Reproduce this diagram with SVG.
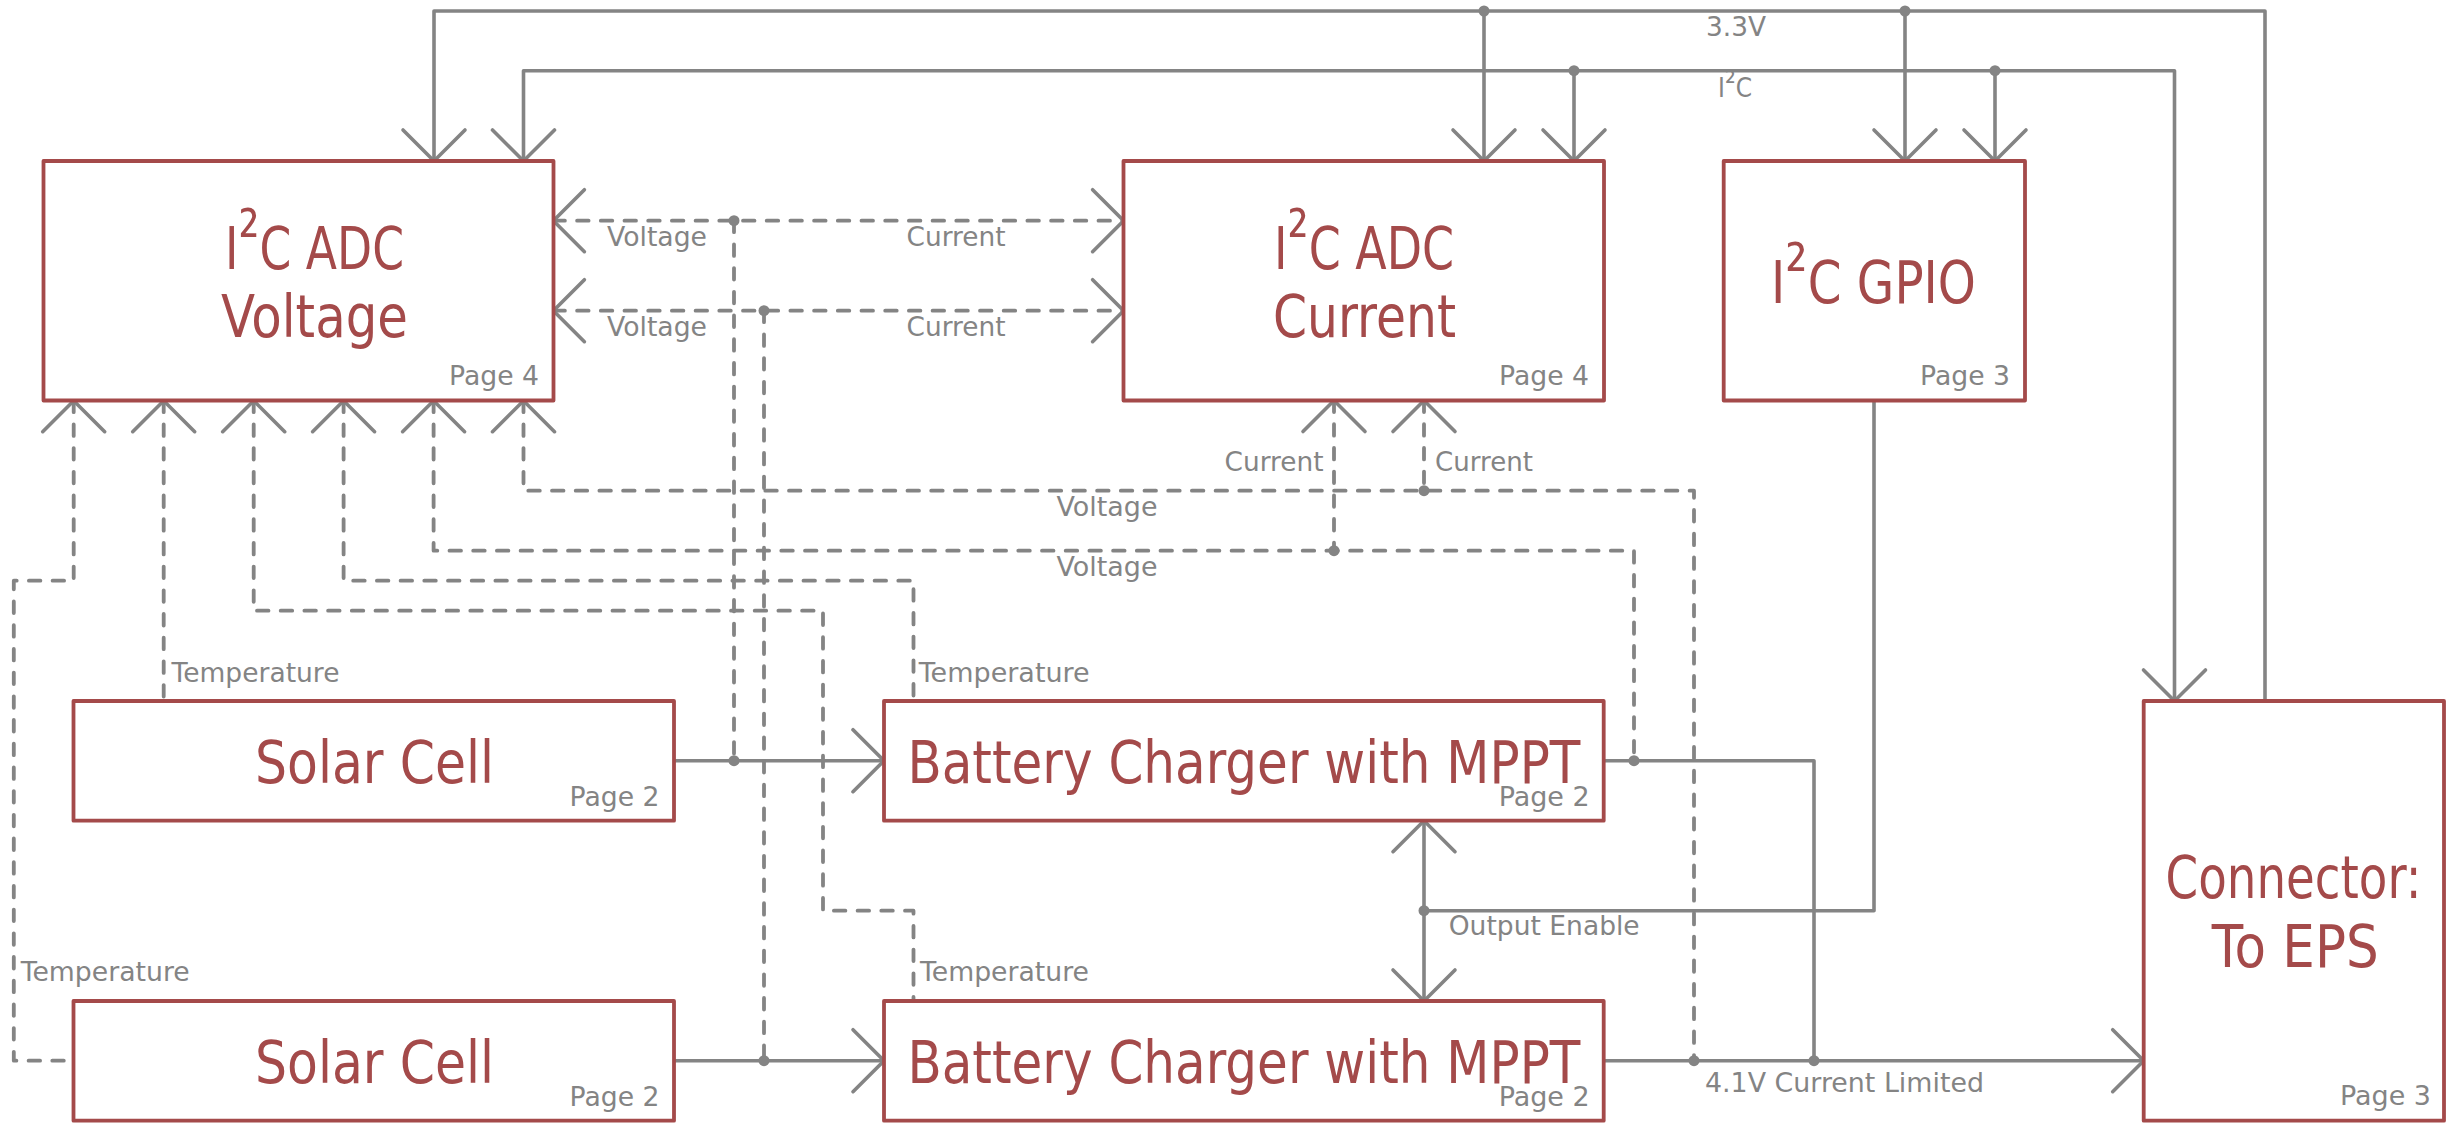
<svg xmlns="http://www.w3.org/2000/svg" xmlns:xlink="http://www.w3.org/1999/xlink" width="2459" height="1137" viewBox="0 0 2459 1137">
<style>
  .box { fill: #FFFFFF; stroke: #A44A4A; stroke-width: 3.8; stroke-linejoin: round; }
  .wire { fill: none; stroke: #848484; stroke-width: 3.6; stroke-linejoin: round; stroke-linecap: round; }
  .dash { fill: none; stroke: #848484; stroke-width: 3.8; stroke-linejoin: round; stroke-linecap: round; stroke-dasharray: 11.5 12.2; }
  .chev { fill: none; stroke: #848484; stroke-width: 3.6; stroke-linecap: round; stroke-linejoin: miter; }
  .dot { fill: #848484; }
  .title { font-family: "DejaVu Sans", "Liberation Sans", sans-serif; font-size: 59px; fill: #A44A4A; }
  .label { font-family: "DejaVu Sans", "Liberation Sans", sans-serif; font-size: 27px; fill: #848484; }
  .sup { font-size: 68px; }
  .supl { font-size: 31px; }
</style>
<defs>
  <path id="chev" class="chev" d="M-31,-31 L0,0 L-31,31"/>
</defs>
<rect x="0" y="0" width="2459" height="1137" fill="#FFFFFF"/>

<g id="connectors">
  <!-- solid buses -->
  <polyline class="wire" points="2265,701 2265,11 434,11 434,161"/>
  <line class="wire" x1="1484" y1="11" x2="1484" y2="161"/>
  <line class="wire" x1="1905" y1="11" x2="1905" y2="161"/>
  <polyline class="wire" points="523.5,161 523.5,70.7 2174.5,70.7 2174.5,701"/>
  <line class="wire" x1="1574" y1="70.7" x2="1574" y2="161"/>
  <line class="wire" x1="1995" y1="70.7" x2="1995" y2="161"/>
  <line class="wire" x1="674" y1="760.7" x2="884" y2="760.7"/>
  <line class="wire" x1="674" y1="1060.7" x2="884" y2="1060.7"/>
  <polyline class="wire" points="1603.7,760.7 1814,760.7 1814,1060.7"/>
  <line class="wire" x1="1603.7" y1="1060.7" x2="2143.7" y2="1060.7"/>
  <polyline class="wire" points="1874,400.5 1874,910.7 1424,910.7"/>
  <line class="wire" x1="1424" y1="820.7" x2="1424" y2="1001"/>

  <!-- dashed signal lines -->
  <line class="dash" x1="553.4" y1="220.7" x2="1123.6" y2="220.7"/>
  <line class="dash" x1="553.4" y1="310.7" x2="1123.6" y2="310.7"/>
  <line class="dash" x1="734" y1="220.7" x2="734" y2="760.7"/>
  <line class="dash" x1="764" y1="310.7" x2="764" y2="1060.7"/>
  <polyline class="dash" points="73.7,400.7 73.7,580.7 13.8,580.7 13.8,1060.7 73.5,1060.7"/>
  <line class="dash" x1="163.7" y1="400.7" x2="163.7" y2="701"/>
  <polyline class="dash" points="253.7,400.7 253.7,610.7 823,610.7 823,910.7 913.5,910.7 913.5,1001"/>
  <polyline class="dash" points="343.6,400.7 343.6,580.7 913.5,580.7 913.5,701"/>
  <polyline class="dash" points="433.6,400.7 433.6,550.7 1634,550.7 1634,760.7"/>
  <polyline class="dash" points="523.5,400.7 523.5,490.7 1694,490.7 1694,1060.7"/>
  <line class="dash" x1="1334" y1="400.5" x2="1334" y2="550.7"/>
  <line class="dash" x1="1424" y1="400.5" x2="1424" y2="490.7"/>

  <!-- arrowheads -->
  <use xlink:href="#chev" transform="translate(434,161) rotate(90)"/>
  <use xlink:href="#chev" transform="translate(523.5,161) rotate(90)"/>
  <use xlink:href="#chev" transform="translate(1484,161) rotate(90)"/>
  <use xlink:href="#chev" transform="translate(1574,161) rotate(90)"/>
  <use xlink:href="#chev" transform="translate(1905,161) rotate(90)"/>
  <use xlink:href="#chev" transform="translate(1995,161) rotate(90)"/>
  <use xlink:href="#chev" transform="translate(2174.5,701) rotate(90)"/>
  <use xlink:href="#chev" transform="translate(553.4,220.7) rotate(180)"/>
  <use xlink:href="#chev" transform="translate(553.4,310.7) rotate(180)"/>
  <use xlink:href="#chev" transform="translate(1123.6,220.7)"/>
  <use xlink:href="#chev" transform="translate(1123.6,310.7)"/>
  <use xlink:href="#chev" transform="translate(73.7,400.7) rotate(-90)"/>
  <use xlink:href="#chev" transform="translate(163.7,400.7) rotate(-90)"/>
  <use xlink:href="#chev" transform="translate(253.7,400.7) rotate(-90)"/>
  <use xlink:href="#chev" transform="translate(343.6,400.7) rotate(-90)"/>
  <use xlink:href="#chev" transform="translate(433.6,400.7) rotate(-90)"/>
  <use xlink:href="#chev" transform="translate(523.5,400.7) rotate(-90)"/>
  <use xlink:href="#chev" transform="translate(1334,400.5) rotate(-90)"/>
  <use xlink:href="#chev" transform="translate(1424,400.5) rotate(-90)"/>
  <use xlink:href="#chev" transform="translate(884,760.7)"/>
  <use xlink:href="#chev" transform="translate(884,1060.7)"/>
  <use xlink:href="#chev" transform="translate(2143.7,1060.7)"/>
  <use xlink:href="#chev" transform="translate(1424,820.7) rotate(-90)"/>
  <use xlink:href="#chev" transform="translate(1424,1001) rotate(90)"/>

  <!-- junctions -->
  <circle class="dot" cx="1484" cy="11" r="5.5"/>
  <circle class="dot" cx="1905" cy="11" r="5.5"/>
  <circle class="dot" cx="1574" cy="70.7" r="5.5"/>
  <circle class="dot" cx="1995" cy="70.7" r="5.5"/>
  <circle class="dot" cx="734" cy="220.7" r="5.5"/>
  <circle class="dot" cx="764" cy="310.7" r="5.5"/>
  <circle class="dot" cx="734" cy="760.7" r="5.5"/>
  <circle class="dot" cx="764" cy="1060.7" r="5.5"/>
  <circle class="dot" cx="1334" cy="550.7" r="5.5"/>
  <circle class="dot" cx="1424" cy="490.7" r="5.5"/>
  <circle class="dot" cx="1634" cy="760.7" r="5.5"/>
  <circle class="dot" cx="1694" cy="1060.7" r="5.5"/>
  <circle class="dot" cx="1814" cy="1060.7" r="5.5"/>
  <circle class="dot" cx="1424" cy="910.7" r="5.5"/>

  <!-- connector labels -->
  <text class="label" x="1706" y="36" textLength="60" lengthAdjust="spacingAndGlyphs">3.3V</text>
  <text class="label" x="1718" y="96.7" textLength="34" lengthAdjust="spacingAndGlyphs">I<tspan class="supl" dy="-4">²</tspan><tspan dy="4">C</tspan></text>
  <text class="label" x="607" y="246" textLength="100" lengthAdjust="spacingAndGlyphs">Voltage</text>
  <text class="label" x="607" y="336" textLength="100" lengthAdjust="spacingAndGlyphs">Voltage</text>
  <text class="label" x="906.6" y="246" textLength="99" lengthAdjust="spacingAndGlyphs">Current</text>
  <text class="label" x="906.6" y="336" textLength="99" lengthAdjust="spacingAndGlyphs">Current</text>
  <text class="label" x="1224.6" y="471" textLength="99" lengthAdjust="spacingAndGlyphs">Current</text>
  <text class="label" x="1435" y="471" textLength="98" lengthAdjust="spacingAndGlyphs">Current</text>
  <text class="label" x="1056.5" y="516" textLength="101" lengthAdjust="spacingAndGlyphs">Voltage</text>
  <text class="label" x="1056.5" y="576" textLength="101" lengthAdjust="spacingAndGlyphs">Voltage</text>
  <text class="label" x="171.5" y="681.7" textLength="168" lengthAdjust="spacingAndGlyphs">Temperature</text>
  <text class="label" x="918.7" y="681.7" textLength="171" lengthAdjust="spacingAndGlyphs">Temperature</text>
  <text class="label" x="20.7" y="980.7" textLength="169" lengthAdjust="spacingAndGlyphs">Temperature</text>
  <text class="label" x="920" y="980.7" textLength="169" lengthAdjust="spacingAndGlyphs">Temperature</text>
  <text class="label" x="1448.7" y="935" textLength="191" lengthAdjust="spacingAndGlyphs">Output Enable</text>
  <text class="label" x="1705" y="1091.7" textLength="279" lengthAdjust="spacingAndGlyphs">4.1V Current Limited</text>
</g>

<g id="adc-voltage">
  <rect class="box" x="43.5" y="161" width="510" height="239.5"/>
  <text class="title" x="225" y="268.7" textLength="179" lengthAdjust="spacingAndGlyphs">I<tspan class="sup" dy="-10">²</tspan><tspan dy="10">C ADC</tspan></text>
  <text class="title" x="221" y="336.7" textLength="187" lengthAdjust="spacingAndGlyphs">Voltage</text>
  <text class="label" x="449" y="385" textLength="90" lengthAdjust="spacingAndGlyphs">Page 4</text>
</g>

<g id="adc-current">
  <rect class="box" x="1123.5" y="161" width="480.5" height="239.5"/>
  <text class="title" x="1274" y="268.7" textLength="180" lengthAdjust="spacingAndGlyphs">I<tspan class="sup" dy="-10">²</tspan><tspan dy="10">C ADC</tspan></text>
  <text class="title" x="1273" y="336.7" textLength="183" lengthAdjust="spacingAndGlyphs">Current</text>
  <text class="label" x="1499" y="385" textLength="90" lengthAdjust="spacingAndGlyphs">Page 4</text>
</g>

<g id="gpio">
  <rect class="box" x="1723.7" y="161" width="301.3" height="239.5"/>
  <text class="title" x="1771" y="302.7" textLength="205" lengthAdjust="spacingAndGlyphs">I<tspan class="sup" dy="-10">²</tspan><tspan dy="10">C GPIO</tspan></text>
  <text class="label" x="1920" y="385" textLength="90" lengthAdjust="spacingAndGlyphs">Page 3</text>
</g>

<g id="solar-cell-1">
  <rect class="box" x="73.5" y="701" width="600.5" height="119.7"/>
  <text class="title" x="255" y="782.7" textLength="239" lengthAdjust="spacingAndGlyphs">Solar Cell</text>
  <text class="label" x="569.5" y="805.7" textLength="90" lengthAdjust="spacingAndGlyphs">Page 2</text>
</g>

<g id="solar-cell-2">
  <rect class="box" x="73.5" y="1001" width="600.5" height="119.7"/>
  <text class="title" x="255" y="1082.7" textLength="239" lengthAdjust="spacingAndGlyphs">Solar Cell</text>
  <text class="label" x="569.5" y="1105.7" textLength="90" lengthAdjust="spacingAndGlyphs">Page 2</text>
</g>

<g id="battery-charger-1">
  <rect class="box" x="884" y="701" width="719.7" height="119.7"/>
  <text class="title" x="907.4" y="782.7" textLength="673" lengthAdjust="spacingAndGlyphs">Battery Charger with MPPT</text>
  <text class="label" x="1498.7" y="805.7" textLength="91" lengthAdjust="spacingAndGlyphs">Page 2</text>
</g>

<g id="battery-charger-2">
  <rect class="box" x="884" y="1001" width="719.7" height="119.7"/>
  <text class="title" x="907.4" y="1082.7" textLength="673" lengthAdjust="spacingAndGlyphs">Battery Charger with MPPT</text>
  <text class="label" x="1498.7" y="1105.7" textLength="91" lengthAdjust="spacingAndGlyphs">Page 2</text>
</g>

<g id="connector-eps">
  <rect class="box" x="2143.7" y="701" width="300.3" height="419.7"/>
  <text class="title" x="2165.6" y="898.3" textLength="256" lengthAdjust="spacingAndGlyphs">Connector:</text>
  <text class="title" x="2211.7" y="966.7" textLength="167" lengthAdjust="spacingAndGlyphs">To EPS</text>
  <text class="label" x="2340" y="1105" textLength="91" lengthAdjust="spacingAndGlyphs">Page 3</text>
</g>
</svg>
